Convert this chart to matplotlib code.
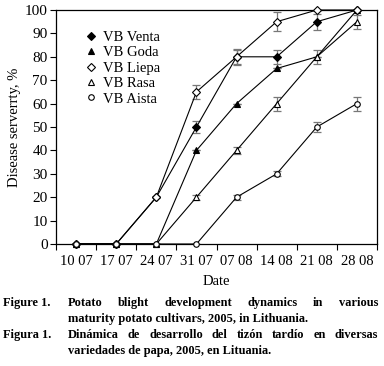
import matplotlib
matplotlib.use("Agg")
import matplotlib.pyplot as plt
import numpy as np

dates = ["10 07", "17 07", "24 07", "31 07", "07 08", "14 08", "21 08", "28 08"]
venta = [0, 0, 20, 50, 80, 80, 95, 100]
goda = [0, 0, 0, 40, 60, 75, 80, 100]
liepa = [0, 0, 20, 65, 80, 95, 100, 100]
rasa = [0, 0, 0, 20, 40, 60, 80, 95]
aista = [0, 0, 0, 0, 20, 30, 50, 60]
venta_err = [0, 0, 0, 2.5, 3, 3, 3.5, 0]
goda_err = [0, 0, 0, 0, 0, 0, 3, 0]
liepa_err = [0, 0, 0, 3, 3.5, 4, 0, 0]
rasa_err = [0, 0, 0, 1, 1.5, 3, 0, 3]
aista_err = [0, 0, 0, 0, 1, 1, 2, 3]
series_names = ["VB Venta", "VB Goda", "VB Liepa", "VB Rasa", "VB Aista"]

plt.rcParams['font.family'] = ['Liberation Serif', 'DejaVu Serif']

fig = plt.figure(figsize=(3.84, 3.66), dpi=100)
ax = fig.add_axes([56/384, 1-244/366, 321/384, 234/366])

x = np.arange(len(dates))
specs = [
    (venta, venta_err, 'D', 'black', 4.0),
    (goda, goda_err, '^', 'black', 5.0),
    (liepa, liepa_err, 'D', 'white', 4.0),
    (rasa, rasa_err, '^', 'white', 5.0),
    (aista, aista_err, 'o', 'white', 4.0),
]
for (vals, errs, m, fc, ms), name in zip(specs, series_names):
    ax.errorbar(x, vals, yerr=errs, fmt='none', ecolor='#777777', elinewidth=0.9,
                capsize=3, capthick=0.9, zorder=2)
    ax.plot(x, vals, color='black', lw=0.8, marker=m, markersize=ms,
            markerfacecolor=fc, markeredgecolor='black', markeredgewidth=0.8,
            label=name, zorder=3, clip_on=False)

ax.set_xlim(-0.5, len(dates) - 0.5)
ax.set_ylim(0, 100)
ax.set_yticks(np.arange(0, 101, 10))
ax.set_xticks(x)
ax.set_xticklabels(dates)
ax.set_xticks(np.arange(-0.5, len(dates), 1), minor=True)
ax.tick_params(axis='x', which='major', length=0, pad=8, labelsize=10.5)
ax.tick_params(axis='x', which='minor', length=4, direction='out', width=0.8)
ax.tick_params(axis='y', length=4, direction='out', width=0.8, labelsize=11, pad=2)
for s in ax.spines.values():
    s.set_linewidth(0.9)

ax.set_xlabel("Date", fontsize=10.5, labelpad=5)
ax.set_ylabel("Disease serverrty, %", fontsize=10.5, labelpad=3)

leg = ax.legend(loc='upper left', bbox_to_anchor=(0.055, 0.955), frameon=False,
                fontsize=10.5, handlelength=1.0, handletextpad=0.3,
                labelspacing=0.15, borderpad=0.2)
for h in leg.legend_handles:
    h.set_linestyle('None')

# caption with justified lines
fig.canvas.draw()
renderer = fig.canvas.get_renderer()
cap_font = dict(fontsize=8.9, fontweight='bold', family=['Liberation Serif', 'DejaVu Serif'])

def justified(words, x0, x1, y):
    texts = [fig.text(0, y, w, va='center', ha='left', **cap_font) for w in words]
    widths = [t.get_window_extent(renderer).width / 384 for t in texts]
    gap = (x1 - x0 - sum(widths)) / (len(words) - 1)
    xp = x0
    for t, w in zip(texts, widths):
        t.set_x(xp)
        xp += w + gap

def left(text, x0, y):
    fig.text(x0, y, text, va='center', ha='left', **cap_font)

left("Figure 1.", 3/384, 1-303/366)
justified("Potato blight development dynamics in various".split(), 68/384, 378/384, 1-303/366)
left("maturity potato cultivars, 2005, in Lithuania.", 68/384, 1-319/366)
left("Figura 1.", 3/384, 1-335/366)
justified("Dinámica de desarrollo del tizón tardío en diversas".split(), 68/384, 378/384, 1-335/366)
left("variedades de papa, 2005, en Lituania.", 68/384, 1-351/366)

fig.savefig("out.png", dpi=100)
